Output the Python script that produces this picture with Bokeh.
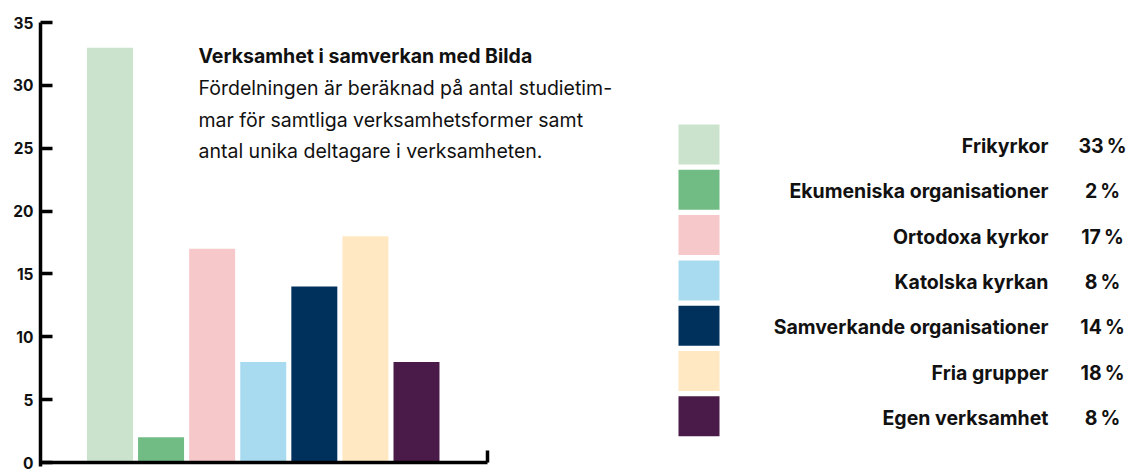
from bokeh.plotting import figure
from bokeh.models import Range1d, FixedTicker, ColumnDataSource
from bokeh.core.properties import value
from bokeh.embed import file_html
from bokeh.resources import INLINE

# ---------------- data ----------------
categories = ["Frikyrkor", "Ekumeniska organisationer", "Ortodoxa kyrkor",
              "Katolska kyrkan", "Samverkande organisationer", "Fria grupper",
              "Egen verksamhet"]
values = [33, 2, 17, 8, 14, 18, 8]
colors = ["#cbe3cc", "#70bc84", "#f7c8c9", "#a9dbf0", "#00305c", "#ffe8c2", "#4a1a48"]
y_ticks = [0, 5, 10, 15, 20, 25, 30, 35]
title_text = "Verksamhet i samverkan med Bilda"
body_lines = ["Fördelningen är beräknad på antal studietim-",
              "mar för samtliga verksamhetsformer samt",
              "antal unika deltagare i verksamheten."]

FONT = "Inter"
INK = "#111111"
AX = "#000000"

# ---------------- layout constants (pixels) ----------------
W, H = 1128, 472
FL = 40            # y-axis position
FT = 22            # top of y range (35)
Y0 = 462           # baseline (0)
FH = 466 - FT      # frame height
AXIS_END_PX = 487  # right end of the x-axis line
YMAX = 35

XS = -1.36
X_AXIS_END = 7.39
px_x = (AXIS_END_PX - FL) / (X_AXIS_END - XS)
XE = XS + (W - FL) / px_x
px_y = (Y0 - FT) / YMAX
YS = -(FT + FH - Y0) / px_y

p = figure(width=W, height=H, frame_width=W - FL, frame_height=FH,
           min_border_left=FL, min_border_top=FT, min_border_right=0,
           min_border_bottom=H - FT - FH,
           x_range=Range1d(XS, XE), y_range=Range1d(YS, YMAX),
           output_backend="svg", toolbar_location=None)
p.extra_x_ranges = {"px": Range1d(FL, W)}
p.extra_y_ranges = {"px": Range1d(FT + FH, FT)}
p.grid.visible = False
p.outline_line_color = None
p.background_fill_color = "white"
p.border_fill_color = "white"
p.xaxis.visible = False

# bars
src = ColumnDataSource(dict(x=list(range(len(values))), top=values, color=colors, cat=categories))
p.vbar(x="x", top="top", bottom=0, width=0.9, fill_color="color", line_color=None, source=src)

# x-axis baseline and end tick
tick_len = 12 / px_y
p.segment(x0=[XS], y0=[0], x1=[X_AXIS_END], y1=[0], line_color=AX, line_width=3.5)
p.segment(x0=[X_AXIS_END], y0=[0], x1=[X_AXIS_END], y1=[tick_len], line_color=AX, line_width=3.5)

# y-axis
ya = p.yaxis[0]
ya.ticker = FixedTicker(ticks=y_ticks)
ya.axis_line_width = 3.5
ya.axis_line_color = AX
ya.major_tick_in = 12
ya.major_tick_out = 0
ya.major_tick_line_width = 3.5
ya.major_tick_line_color = AX
ya.minor_tick_line_color = None
ya.major_label_text_font = FONT
ya.major_label_text_font_size = "15.5px"
ya.major_label_text_font_style = "bold"
ya.major_label_text_color = INK
ya.major_label_standoff = 7

# text block
TX = 198
baselines = [55, 87, 119, 150]
tsrc = ColumnDataSource(dict(x=[TX] * 4, y=baselines, t=[title_text] + body_lines,
                             st=["bold", "normal", "normal", "normal"]))
p.text(x="x", y="y", text="t", text_font=value(FONT), text_font_size=value("19.5px"),
       text_font_style="st", text_color=INK, text_align="left", text_baseline="alphabetic",
       x_range_name="px", y_range_name="px", source=tsrc)

# legend
n = len(categories)
row_y = [144 + i * 45.3 for i in range(n)]
txt_y = [y + 1.5 for y in row_y]
pct = [f"{v}\u2009%" for v in values]
lsrc = ColumnDataSource(dict(y=row_y, ty=txt_y, color=colors, cat=categories, pct=pct))
p.rect(x=698.5, y="y", width=41, height=40, fill_color="color", line_color=None,
       x_range_name="px", y_range_name="px", source=lsrc)
p.text(x=1048, y="ty", text="cat", text_font=value(FONT), text_font_size=value("19.5px"),
       text_font_style="bold", text_color=INK, text_align="right",
       text_baseline="middle", x_range_name="px", y_range_name="px", source=lsrc)
p.text(x=1102, y="ty", text="pct", text_font=value(FONT), text_font_size=value("19.5px"),
       text_font_style="bold", text_color=INK, text_align="center",
       text_baseline="middle", x_range_name="px", y_range_name="px", source=lsrc)

open("out.html", "w").write(file_html(p, INLINE))
